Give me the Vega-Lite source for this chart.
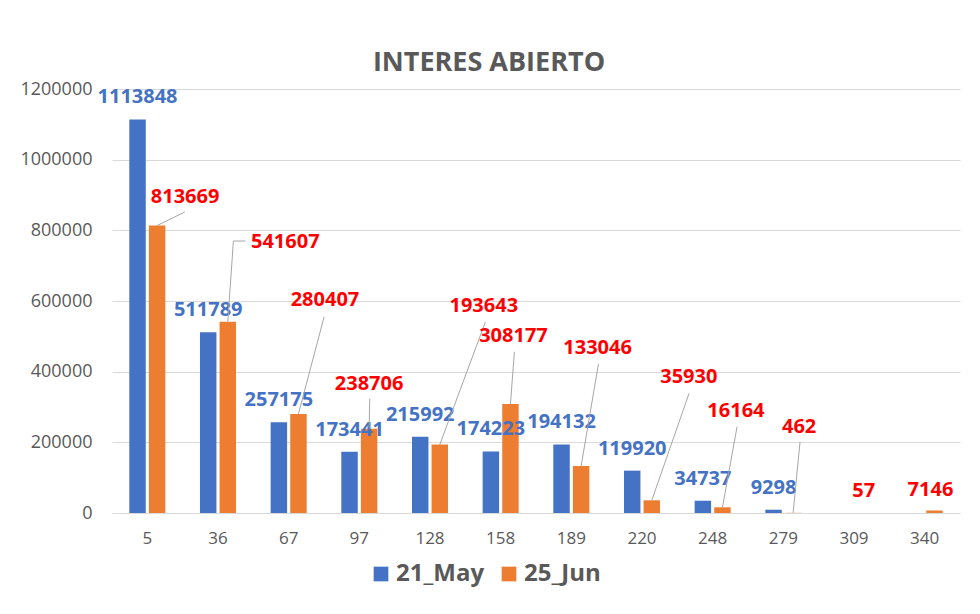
{
  "$schema": "https://vega.github.io/schema/vega-lite/v6.json",
  "width": 848,
  "height": 424,
  "autosize": {"type": "none"},
  "padding": {"left": 112, "top": 89, "right": 20, "bottom": 101},
  "background": "white",
  "config": {"view": {"stroke": null}, "font": "Open Sans"},
  "title": {"text": "INTERES ABIERTO", "font": "Open Sans", "fontSize": 27, "fontWeight": "bold", "color": "#595959", "anchor": "middle", "dx": -47, "offset": 3},
  "data": {"values": [
    {"cat": "5", "series": "21_May", "value": 1113848},
    {"cat": "36", "series": "21_May", "value": 511789},
    {"cat": "67", "series": "21_May", "value": 257175},
    {"cat": "97", "series": "21_May", "value": 173441},
    {"cat": "128", "series": "21_May", "value": 215992},
    {"cat": "158", "series": "21_May", "value": 174223},
    {"cat": "189", "series": "21_May", "value": 194132},
    {"cat": "220", "series": "21_May", "value": 119920},
    {"cat": "248", "series": "21_May", "value": 34737},
    {"cat": "279", "series": "21_May", "value": 9298},
    {"cat": "5", "series": "25_Jun", "value": 813669},
    {"cat": "36", "series": "25_Jun", "value": 541607},
    {"cat": "67", "series": "25_Jun", "value": 280407},
    {"cat": "97", "series": "25_Jun", "value": 238706},
    {"cat": "128", "series": "25_Jun", "value": 193643},
    {"cat": "158", "series": "25_Jun", "value": 308177},
    {"cat": "189", "series": "25_Jun", "value": 133046},
    {"cat": "220", "series": "25_Jun", "value": 35930},
    {"cat": "248", "series": "25_Jun", "value": 16164},
    {"cat": "279", "series": "25_Jun", "value": 462},
    {"cat": "309", "series": "25_Jun", "value": 57},
    {"cat": "340", "series": "25_Jun", "value": 7146}
  ]},
  "encoding": {
    "x": {"field": "cat", "type": "nominal",
      "scale": {"domain": ["5","36","67","97","128","158","189","220","248","279","309","340"], "paddingInner": 0.49, "paddingOuter": 0.245},
      "axis": {"title": null, "labelAngle": 0, "ticks": false, "domainColor": "#D9D9D9", "domainWidth": 1, "labelColor": "#595959", "labelFont": "Open Sans", "labelFontSize": 17, "labelPadding": 17}},
    "xOffset": {"field": "series", "type": "nominal", "scale": {"domain": ["21_May", "25_Jun"], "paddingInner": 0.16}},
    "y": {"field": "value", "type": "quantitative",
      "scale": {"domain": [0, 1200000], "nice": false},
      "axis": {"title": null, "values": [0,200000,400000,600000,800000,1000000,1200000], "format": "d", "domain": false, "ticks": false, "gridColor": "#D9D9D9", "gridWidth": 1, "labelColor": "#595959", "labelFont": "Open Sans", "labelFontSize": 18, "labelPadding": 20}}
  },
  "layer": [
    {
      "mark": {"type": "bar"},
      "encoding": {
        "color": {"field": "series", "type": "nominal",
          "scale": {"domain": ["21_May", "25_Jun"], "range": ["#4472C4", "#ED7D31"]},
          "legend": {"orient": "none", "legendX": 257, "legendY": 473, "direction": "horizontal", "title": null, "symbolType": "square", "symbolSize": 216, "symbolStrokeWidth": 0, "labelFont": "Open Sans", "labelFontSize": 24, "labelFontWeight": "bold", "labelColor": "#595959", "labelOffset": 3, "columnPadding": 12}}
      }
    },
    {
      "transform": [{"filter": "datum.series === '21_May'"}],
      "mark": {"type": "text", "font": "Open Sans", "fontSize": 20, "fontWeight": "bold", "color": "#4472C4", "baseline": "middle", "dy": -22},
      "encoding": {"text": {"field": "value", "type": "quantitative", "format": "d"}}
    },
    {
      "transform": [{"filter": "datum.series === '25_Jun' && datum.cat === '5'"}],
      "layer": [
        {"mark": {"type": "rule", "color": "#A6A6A6", "x2Offset": 37.4, "y2Offset": -13.5}, "encoding": {"x2": {"field": "cat"}, "y2": {"field": "value"}}},
        {"mark": {"type": "text", "font": "Open Sans", "fontSize": 20, "fontWeight": "bold", "color": "#FF0000", "baseline": "middle", "dx": 28, "dy": -29}, "encoding": {"text": {"field": "value", "type": "quantitative", "format": "d"}}}
      ]
    },
    {
      "transform": [{"filter": "datum.series === '25_Jun' && datum.cat === '36'"}],
      "layer": [
        {"mark": {"type": "rule", "color": "#A6A6A6", "x2Offset": 15.4, "y2Offset": -80.6}, "encoding": {"x2": {"field": "cat"}, "y2": {"field": "value"}}},
        {"mark": {"type": "rule", "color": "#A6A6A6", "xOffset": 15.4, "yOffset": -80.6, "y2Offset": -80.6, "x2Offset": 27.4}, "encoding": {"xOffset": null, "x": {"field": "cat", "type": "nominal"}, "x2": {"field": "cat"}, "y2": {"field": "value"}}},
        {"mark": {"type": "text", "font": "Open Sans", "fontSize": 20, "fontWeight": "bold", "color": "#FF0000", "baseline": "middle", "dx": 57.5, "dy": -80}, "encoding": {"text": {"field": "value", "type": "quantitative", "format": "d"}}}
      ]
    },
    {
      "transform": [{"filter": "datum.series === '25_Jun' && datum.cat === '67'"}],
      "layer": [
        {"mark": {"type": "rule", "color": "#A6A6A6", "x2Offset": 35.4, "y2Offset": -97}, "encoding": {"x2": {"field": "cat"}, "y2": {"field": "value"}}},
        {"mark": {"type": "text", "font": "Open Sans", "fontSize": 20, "fontWeight": "bold", "color": "#FF0000", "baseline": "middle", "dx": 26.5, "dy": -114}, "encoding": {"text": {"field": "value", "type": "quantitative", "format": "d"}}}
      ]
    },
    {
      "transform": [{"filter": "datum.series === '25_Jun' && datum.cat === '97'"}],
      "layer": [
        {"mark": {"type": "rule", "color": "#A6A6A6", "x2Offset": 10.4, "y2Offset": -30}, "encoding": {"x2": {"field": "cat"}, "y2": {"field": "value"}}},
        {"mark": {"type": "text", "font": "Open Sans", "fontSize": 20, "fontWeight": "bold", "color": "#FF0000", "baseline": "middle", "dx": 0, "dy": -45}, "encoding": {"text": {"field": "value", "type": "quantitative", "format": "d"}}}
      ]
    },
    {
      "transform": [{"filter": "datum.series === '25_Jun' && datum.cat === '128'"}],
      "layer": [
        {"mark": {"type": "rule", "color": "#A6A6A6", "x2Offset": 55.4, "y2Offset": -122.6}, "encoding": {"x2": {"field": "cat"}, "y2": {"field": "value"}}},
        {"mark": {"type": "text", "font": "Open Sans", "fontSize": 20, "fontWeight": "bold", "color": "#FF0000", "baseline": "middle", "dx": 44, "dy": -139}, "encoding": {"text": {"field": "value", "type": "quantitative", "format": "d"}}}
      ]
    },
    {
      "transform": [{"filter": "datum.series === '25_Jun' && datum.cat === '158'"}],
      "layer": [
        {"mark": {"type": "rule", "color": "#A6A6A6", "x2Offset": 13.7, "y2Offset": -52.3}, "encoding": {"x2": {"field": "cat"}, "y2": {"field": "value"}}},
        {"mark": {"type": "text", "font": "Open Sans", "fontSize": 20, "fontWeight": "bold", "color": "#FF0000", "baseline": "middle", "dx": 3, "dy": -68}, "encoding": {"text": {"field": "value", "type": "quantitative", "format": "d"}}}
      ]
    },
    {
      "transform": [{"filter": "datum.series === '25_Jun' && datum.cat === '189'"}],
      "layer": [
        {"mark": {"type": "rule", "color": "#A6A6A6", "x2Offset": 27.1, "y2Offset": -102}, "encoding": {"x2": {"field": "cat"}, "y2": {"field": "value"}}},
        {"mark": {"type": "text", "font": "Open Sans", "fontSize": 20, "fontWeight": "bold", "color": "#FF0000", "baseline": "middle", "dx": 16.5, "dy": -118}, "encoding": {"text": {"field": "value", "type": "quantitative", "format": "d"}}}
      ]
    },
    {
      "transform": [{"filter": "datum.series === '25_Jun' && datum.cat === '220'"}],
      "layer": [
        {"mark": {"type": "rule", "color": "#A6A6A6", "x2Offset": 47.1, "y2Offset": -107}, "encoding": {"x2": {"field": "cat"}, "y2": {"field": "value"}}},
        {"mark": {"type": "text", "font": "Open Sans", "fontSize": 20, "fontWeight": "bold", "color": "#FF0000", "baseline": "middle", "dx": 37, "dy": -123}, "encoding": {"text": {"field": "value", "type": "quantitative", "format": "d"}}}
      ]
    },
    {
      "transform": [{"filter": "datum.series === '25_Jun' && datum.cat === '248'"}],
      "layer": [
        {"mark": {"type": "rule", "color": "#A6A6A6", "x2Offset": 24.4, "y2Offset": -80.6}, "encoding": {"x2": {"field": "cat"}, "y2": {"field": "value"}}},
        {"mark": {"type": "text", "font": "Open Sans", "fontSize": 20, "fontWeight": "bold", "color": "#FF0000", "baseline": "middle", "dx": 13.5, "dy": -96}, "encoding": {"text": {"field": "value", "type": "quantitative", "format": "d"}}}
      ]
    },
    {
      "transform": [{"filter": "datum.series === '25_Jun' && datum.cat === '279'"}],
      "layer": [
        {"mark": {"type": "rule", "color": "#A6A6A6", "x2Offset": 16.7, "y2Offset": -71}, "encoding": {"x2": {"field": "cat"}, "y2": {"field": "value"}}},
        {"mark": {"type": "text", "font": "Open Sans", "fontSize": 20, "fontWeight": "bold", "color": "#FF0000", "baseline": "middle", "dx": 6, "dy": -86}, "encoding": {"text": {"field": "value", "type": "quantitative", "format": "d"}}}
      ]
    },
    {
      "transform": [{"filter": "datum.series === '25_Jun' && datum.cat === '309'"}],
      "mark": {"type": "text", "font": "Open Sans", "fontSize": 20, "fontWeight": "bold", "color": "#FF0000", "baseline": "middle", "dx": 0, "dy": -22},
      "encoding": {"text": {"field": "value", "type": "quantitative", "format": "d"}}
    },
    {
      "transform": [{"filter": "datum.series === '25_Jun' && datum.cat === '340'"}],
      "mark": {"type": "text", "font": "Open Sans", "fontSize": 20, "fontWeight": "bold", "color": "#FF0000", "baseline": "middle", "dx": -4, "dy": -20},
      "encoding": {"text": {"field": "value", "type": "quantitative", "format": "d"}}
    }
  ]
}
